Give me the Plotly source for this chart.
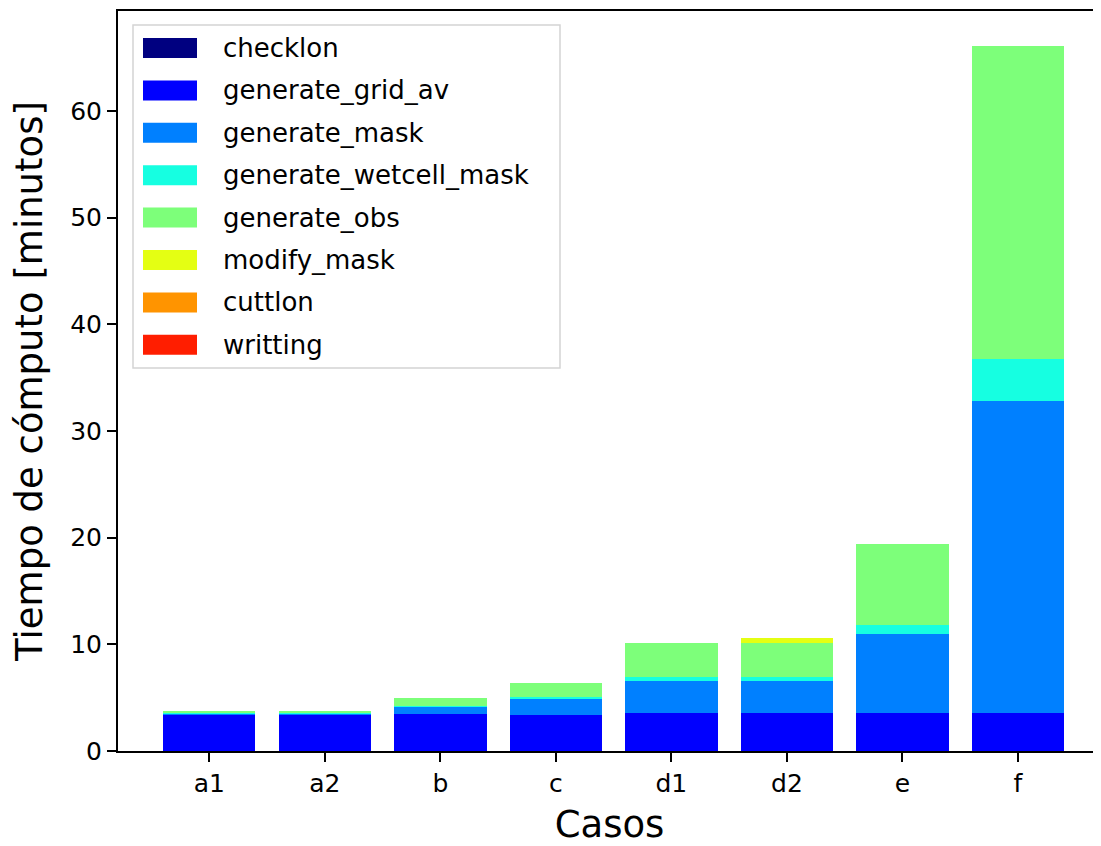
import plotly.graph_objects as go

casos = ["a1", "a2", "b", "c", "d1", "d2", "e", "f"]
series = ["checklon", "generate_grid_av", "generate_mask", "generate_wetcell_mask",
          "generate_obs", "modify_mask", "cuttlon", "writting"]
checklon = [0.0, 0.0, 0.0, 0.0, 0.0, 0.0, 0.0, 0.0]
generate_grid_av = [3.45, 3.45, 3.43, 3.40, 3.60, 3.60, 3.60, 3.60]
generate_mask = [0.05, 0.05, 0.77, 1.55, 3.00, 3.00, 7.35, 29.25]
generate_wetcell_mask = [0.03, 0.03, 0.05, 0.12, 0.37, 0.37, 0.90, 3.93]
generate_obs = [0.25, 0.25, 0.70, 1.33, 3.18, 3.18, 7.52, 29.29]
modify_mask = [0.0, 0.0, 0.0, 0.0, 0.0, 0.40, 0.0, 0.0]
cuttlon = [0.0, 0.0, 0.0, 0.0, 0.0, 0.0, 0.0, 0.0]
writting = [0.0, 0.0, 0.0, 0.0, 0.0, 0.0, 0.0, 0.0]
values = [checklon, generate_grid_av, generate_mask, generate_wetcell_mask,
          generate_obs, modify_mask, cuttlon, writting]
colors = ["#000080", "#0000ff", "#0080ff", "#16ffe1", "#7dff7a", "#e4ff13", "#ff9400", "#ff1e00"]
yticks = [0, 10, 20, 30, 40, 50, 60]

FONT = "DejaVu Sans"
OFF = 8  # page body margin
W, H = 1101 - OFF, 846 - OFF
L, R, T = 118 - OFF, 0, 11 - OFF
B = H - (751 - OFF)

fig = go.Figure()
for name, vals, col in zip(series, values, colors):
    fig.add_trace(go.Bar(x=casos, y=vals, name=name, marker=dict(color=col, line=dict(width=0)),
                         showlegend=False))

totals = [sum(v[i] for v in values) for i in range(len(casos))]
ymax = max(totals) * 1.05
pw = W - L - R
ph = H - T - B
step = 115.53
x0 = -0.79
x1 = x0 + pw / step

fig.update_layout(
    width=W, height=H,
    margin=dict(l=L, r=R, t=T, b=B, pad=0),
    barmode="stack", bargap=0.2,
    plot_bgcolor="white", paper_bgcolor="white",
    font=dict(family=FONT, size=26, color="#000000"),
    xaxis=dict(range=[x0, x1], showline=True, linecolor="black", linewidth=2, mirror=True,
               ticks="outside", ticklen=9, tickwidth=1.5, tickcolor="black",
               showgrid=False, zeroline=False, tickfont=dict(size=25),
               title=dict(text="Casos", font=dict(size=37), standoff=17)),
    yaxis=dict(range=[0, ymax], showline=True, linecolor="black", linewidth=2,
               ticks="outside", ticklen=9, tickwidth=1.5, tickcolor="black",
               tickvals=yticks, showgrid=False, zeroline=False, tickfont=dict(size=25),
               title=dict(text="Tiempo de cómputo [minutos]", font=dict(size=37), standoff=18)),
)

# legend box (matplotlib style), positions given in page pixels of the reference
def px_x(p):
    return (p - OFF - L) / pw

def px_y(p):
    return 1 - (p - OFF - T) / ph

fig.add_shape(type="rect", xref="paper", yref="paper",
              x0=px_x(133), x1=px_x(560), y0=px_y(368), y1=px_y(25),
              line=dict(color="#d4d4d4", width=1.5), fillcolor="rgba(255,255,255,0.8)", layer="above")
for i, (name, col) in enumerate(zip(series, colors)):
    yc = 48 + i * 42.4
    fig.add_shape(type="rect", xref="paper", yref="paper",
                  x0=px_x(143), x1=px_x(197), y0=px_y(yc + 10), y1=px_y(yc - 10),
                  line=dict(width=0), fillcolor=col, layer="above")
    fig.add_annotation(xref="paper", yref="paper", x=px_x(221), y=px_y(yc),
                       xanchor="left", yanchor="middle", showarrow=False,
                       text=name, font=dict(family=FONT, size=26, color="#000000"))

fig.write_html("out.html")
